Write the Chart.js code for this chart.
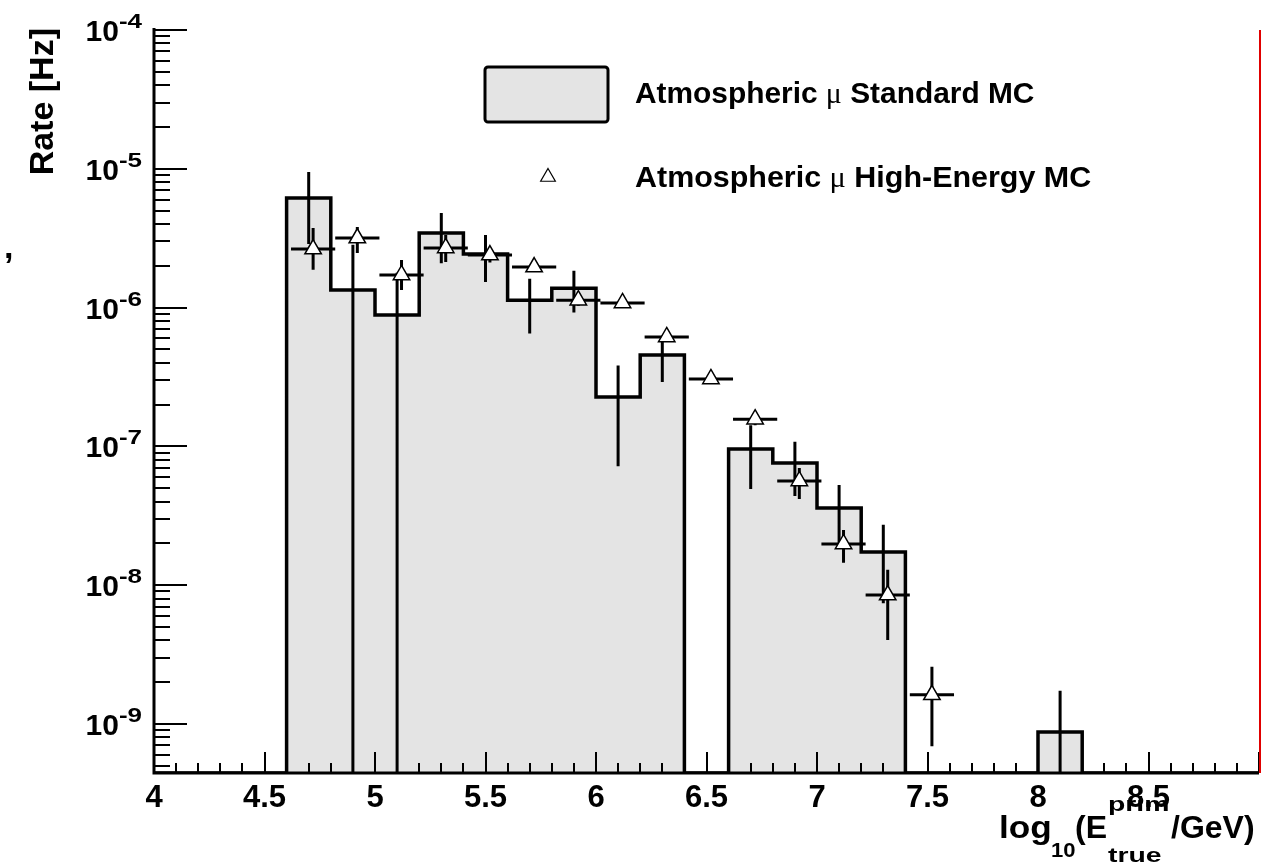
<!DOCTYPE html>
<html>
<head>
<meta charset="utf-8">
<script src="https://cdn.jsdelivr.net/npm/chart.js@4.4.1/dist/chart.umd.min.js"></script>
<style>
  html, body { margin: 0; padding: 0; background: #ffffff; }
  #wrap { width: 1273px; height: 864px; position: relative; }
</style>
</head>
<body>
<div id="wrap"><canvas id="c" width="1273" height="864"></canvas></div>
<script>
// ---------------- data ----------------
// bin edges of the Standard MC histogram (log10 E)
const binEdges = [4.0, 4.2, 4.4, 4.6, 4.8, 5.0, 5.2, 5.4, 5.6, 5.8, 6.0, 6.2, 6.4,
                  6.6, 6.8, 7.0, 7.2, 7.4, 7.6, 7.8, 8.0, 8.2, 8.4, 8.6, 8.8, 9.0];
// Standard MC rate per bin [Hz]
const stdRate = [0, 0, 0, 6.17e-6, 1.34e-6, 8.85e-7, 3.45e-6, 2.43e-6, 1.13e-6, 1.38e-6,
                 2.27e-7, 4.56e-7, 0, 9.57e-8, 7.59e-8, 3.60e-8, 1.73e-8, 0, 0, 0,
                 8.75e-10, 0, 0, 0, 0];
// Standard MC error per bin [Hz]
const stdErr = [0, 0, 0, 3.3e-6, 1.49e-6, 9.0e-7, 1.36e-6, 9.0e-7, 4.8e-7, 4.6e-7,
                1.55e-7, 1.65e-7, 0, 4.64e-8, 3.2e-8, 1.67e-8, 9.9e-9, 0, 0, 0,
                8.6e-10, 0, 0, 0, 0];
// High-Energy MC points
const heX = [4.72, 4.92, 5.12, 5.32, 5.52, 5.72, 5.92, 6.12, 6.32, 6.52, 6.72, 6.92, 7.12, 7.32, 7.52];
const heRate = [2.64e-6, 3.17e-6, 1.72e-6, 2.69e-6, 2.39e-6, 1.96e-6, 1.13e-6, 1.08e-6,
                6.14e-7, 3.06e-7, 1.57e-7, 5.63e-8, 1.98e-8, 8.49e-9, 1.62e-9];
const heErrUp = [1.11e-6, 6.4e-7, 4.8e-7, 6.4e-7, 3.0e-7, 1.5e-7, 1.0e-7, 8.0e-8,
                 5.0e-8, 2.0e-8, 1.5e-8, 1.35e-8, 5.2e-9, 4.4e-9, 9.6e-10];
const heErrDown = [7.7e-7, 7.0e-7, 3.8e-7, 5.6e-7, 2.8e-7, 1.4e-7, 1.0e-7, 8.0e-8,
                   5.0e-8, 2.0e-8, 1.5e-8, 1.45e-8, 5.3e-9, 4.46e-9, 9.3e-10];
const heXErr = [0.1, 0.1, 0.1, 0.1, 0.1, 0.1, 0.1, 0.1, 0.1, 0.1, 0.1, 0.1, 0.1, 0.1, 0.1];
// axis ranges / tick labels
const xTickLabels = ['4', '4.5', '5', '5.5', '6', '6.5', '7', '7.5', '8', '8.5'];
const yDecades = [-4, -5, -6, -7, -8, -9];
const X_MIN = 4, X_MAX = 9;
const Y_MIN = 4.43e-10, Y_MAX = 1e-4;

const legendLabels = ['Standard MC', 'High-Energy MC'];

// ---------------- build datasets ----------------
const FILL = '#e4e4e4';
const histPts = binEdges.map((e, i) => ({
  x: e,
  y: (i < stdRate.length && stdRate[i] > 0) ? stdRate[i] : Y_MIN
}));

const stdErrPts = [];
stdRate.forEach((v, i) => {
  if (v <= 0) return;
  const c = (binEdges[i] + binEdges[i + 1]) / 2;
  const lo = v - stdErr[i];
  stdErrPts.push({ x: c, y: lo > Y_MIN ? lo : Y_MIN });
  stdErrPts.push({ x: c, y: v + stdErr[i] });
  stdErrPts.push({ x: c, y: null });
});

const heErrPts = [];
heX.forEach((x, i) => {
  heErrPts.push({ x: x - heXErr[i], y: heRate[i] });
  heErrPts.push({ x: x + heXErr[i], y: heRate[i] });
  heErrPts.push({ x: x, y: null });
  heErrPts.push({ x: x, y: heRate[i] - heErrDown[i] });
  heErrPts.push({ x: x, y: heRate[i] + heErrUp[i] });
  heErrPts.push({ x: x, y: null });
});
const hePts = heX.map((x, i) => ({ x: x, y: heRate[i] }));

// ---------------- decorations plugin ----------------
const FONT = '"Liberation Sans", Arial, Helvetica, sans-serif';
// draw text with optional horizontal stretch
function sText(ctx, t, x, y, font, sx) {
  ctx.save();
  ctx.font = font;
  ctx.translate(x, y);
  ctx.scale(sx || 1, 1);
  ctx.fillText(t, 0, 0);
  const w = ctx.measureText(t).width * (sx || 1);
  ctx.restore();
  return w;
}
function richText(ctx, parts, x, y, sx) {
  let cx = x;
  parts.forEach(p => { cx += sText(ctx, p.t, cx, y, p.font, sx); });
  return cx;
}
function triPath(ctx, x, y, r) {
  const s = Math.sqrt(3) / 2;
  ctx.beginPath();
  ctx.moveTo(x, y - r);
  ctx.lineTo(x + s * r, y + r / 2);
  ctx.lineTo(x - s * r, y + r / 2);
  ctx.closePath();
}

const decor = {
  id: 'decor',
  afterDraw(chart) {
    const ctx = chart.ctx, xs = chart.scales.x, ys = chart.scales.y, a = chart.chartArea;
    ctx.save();
    ctx.lineCap = 'butt';
    // x ticks (inside)
    ctx.strokeStyle = '#000'; ctx.lineWidth = 2;
    for (let k = 0; k <= 50; k++) {
      const v = X_MIN + k * 0.1;
      const px = Math.round(xs.getPixelForValue(v));
      const len = (k % 5 === 0) ? 21 : 10;
      ctx.beginPath(); ctx.moveTo(px, a.bottom); ctx.lineTo(px, a.bottom - len); ctx.stroke();
    }
    // y ticks (inside)
    for (let e = -10; e <= -4; e++) {
      for (let m = 1; m <= 9; m++) {
        const v = m * Math.pow(10, e);
        if (v < Y_MIN * 0.999 || v > Y_MAX * 1.001) continue;
        const py = Math.round(ys.getPixelForValue(v));
        const len = (m === 1) ? 33 : 16;
        ctx.beginPath(); ctx.moveTo(a.left, py); ctx.lineTo(a.left + len, py); ctx.stroke();
      }
    }
    // axes
    ctx.lineWidth = 3;
    ctx.beginPath();
    ctx.moveTo(a.left, a.top - 2); ctx.lineTo(a.left, a.bottom); ctx.lineTo(a.right, a.bottom);
    ctx.stroke();
    // red right frame line
    ctx.strokeStyle = '#e00000'; ctx.lineWidth = 2;
    ctx.beginPath(); ctx.moveTo(a.right + 1, a.top); ctx.lineTo(a.right + 1, a.bottom); ctx.stroke();

    // y tick labels 10^-n
    ctx.fillStyle = '#000';
    ctx.textBaseline = 'alphabetic';
    ctx.textAlign = 'left';
    yDecades.forEach(d => {
      const py = ys.getPixelForValue(Math.pow(10, d));
      const expFont = 'bold 20px ' + FONT, baseFont = 'bold 30px ' + FONT;
      ctx.font = expFont;
      const expT = String(d);
      const we = ctx.measureText(expT).width * 1.3;
      ctx.font = baseFont;
      const wb = ctx.measureText('10').width;
      const right = 142;
      sText(ctx, '10', right - we - wb, py + 11, baseFont, 1);
      sText(ctx, expT, right - we, py - 2, expFont, 1.3);
    });

    // y title
    ctx.save();
    ctx.translate(44, a.top - 2);
    ctx.rotate(-Math.PI / 2);
    ctx.textAlign = 'right';
    ctx.textBaseline = 'middle';
    ctx.font = 'bold 34px ' + FONT;
    ctx.fillText('Rate [Hz]', 0, 0);
    ctx.restore();
    // stray comma from original figure
    ctx.font = 'bold 34px ' + FONT;
    ctx.fillText(',', 4, 258);

    // x title: log10(E^prim_true/GeV)
    const big = 'bold 32px ' + FONT, small = 'bold 21px ' + FONT;
    const base = 838;
    sText(ctx, 'log', 999, base, big, 1.1);
    sText(ctx, '10', 1051, base + 19, small, 1.05);
    sText(ctx, '(E', 1075, base, big, 1.0);
    sText(ctx, 'prim', 1108, base - 27, small, 1.35);
    sText(ctx, 'true', 1108, base + 24, small, 1.35);
    sText(ctx, '/GeV)', 1171, base, big, 1.0);

    // legend
    ctx.fillStyle = FILL; ctx.strokeStyle = '#000'; ctx.lineWidth = 3;
    ctx.beginPath();
    if (ctx.roundRect) ctx.roundRect(485, 67, 123, 55, 3); else ctx.rect(485, 67, 123, 55);
    ctx.fill(); ctx.stroke();
    ctx.fillStyle = '#fff'; ctx.lineWidth = 1.2;
    triPath(ctx, 548, 177, 8.5); ctx.fill(); ctx.stroke();
    ctx.fillStyle = '#000';
    const lf = 'bold 29px ' + FONT, mf = '29px "Liberation Serif", "DejaVu Serif", serif';
    richText(ctx, [{t: 'Atmospheric ', font: lf}, {t: '\u03bc', font: mf}, {t: ' ' + legendLabels[0], font: lf}], 635, 103, 1.03);
    richText(ctx, [{t: 'Atmospheric ', font: lf}, {t: '\u03bc', font: mf}, {t: ' ' + legendLabels[1], font: lf}], 635, 187, 1.05);
    ctx.restore();
  }
};

// ---------------- chart ----------------
new Chart(document.getElementById('c'), {
  type: 'line',
  data: {
    datasets: [
      { label: 'HE points', data: hePts, showLine: false, order: 0,
        pointStyle: 'triangle', pointRadius: 9.5, pointBackgroundColor: '#ffffff',
        pointBorderColor: '#000000', pointBorderWidth: 1.5 },
      { label: 'HE errors', data: heErrPts, order: 1, borderColor: '#000', borderWidth: 3,
        pointRadius: 0, spanGaps: false, fill: false, borderCapStyle: 'butt' },
      { label: 'Std errors', data: stdErrPts, order: 2, borderColor: '#000', borderWidth: 3,
        pointRadius: 0, spanGaps: false, fill: false, borderCapStyle: 'butt' },
      { label: 'Atmospheric \u03bc Standard MC', data: histPts, order: 3, stepped: 'before',
        borderColor: '#000', borderWidth: 3.5, backgroundColor: FILL, fill: 'start',
        pointRadius: 0, borderJoinStyle: 'miter' }
    ]
  },
  options: {
    responsive: false,
    animation: false,
    devicePixelRatio: 1,
    layout: { padding: { left: 0, right: 14, top: 30, bottom: 0 } },
    plugins: { legend: { display: false }, tooltip: { enabled: false } },
    scales: {
      x: {
        type: 'linear', min: X_MIN, max: X_MAX,
        grid: { display: false, drawTicks: false },
        border: { display: false },
        afterFit: s => { s.height = 91; },
        afterBuildTicks: s => { s.ticks = xTickLabels.map(t => ({ value: parseFloat(t) })); },
        ticks: {
          autoSkip: false, maxRotation: 0, padding: 7, color: '#000',
          font: { family: FONT, weight: 'bold', size: 31 },
          callback: (v) => xTickLabels.find(t => parseFloat(t) === v) || ''
        }
      },
      y: {
        type: 'logarithmic', min: Y_MIN, max: Y_MAX,
        grid: { display: false, drawTicks: false },
        border: { display: false },
        afterFit: s => { s.width = 154; },
        ticks: { display: false }
      }
    }
  },
  plugins: [decor]
});
</script>
</body>
</html>
